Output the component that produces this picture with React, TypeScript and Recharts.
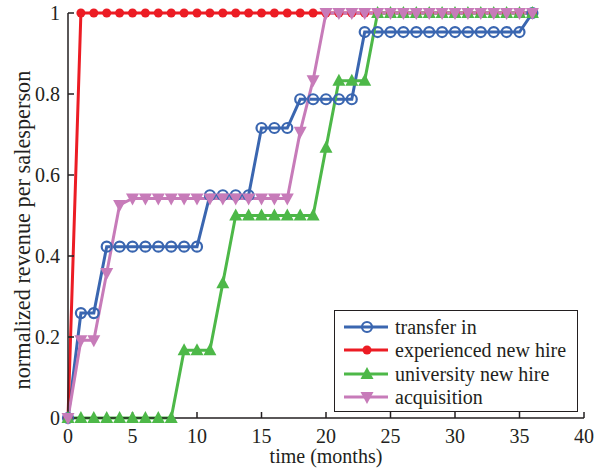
import { LineChart, Line, XAxis, YAxis, Legend } from "recharts";

const months = [0, 1, 2, 3, 4, 5, 6, 7, 8, 9, 10, 11, 12, 13, 14, 15, 16, 17, 18, 19, 20, 21, 22, 23, 24, 25, 26, 27, 28, 29, 30, 31, 32, 33, 34, 35, 36];

const transferIn = [0, 0.259, 0.259, 0.423, 0.423, 0.423, 0.423, 0.423, 0.423, 0.423, 0.423, 0.55, 0.55, 0.55, 0.55, 0.716, 0.716, 0.716, 0.787, 0.787, 0.787, 0.787, 0.787, 0.953, 0.953, 0.953, 0.953, 0.953, 0.953, 0.953, 0.953, 0.953, 0.953, 0.953, 0.953, 0.953, 1];
const experiencedNewHire = [0, 1, 1, 1, 1, 1, 1, 1, 1, 1, 1, 1, 1, 1, 1, 1, 1, 1, 1, 1, 1, 1, 1, 1, 1, 1, 1, 1, 1, 1, 1, 1, 1, 1, 1, 1, 1];
const universityNewHire = [0, 0, 0, 0, 0, 0, 0, 0, 0, 0.167, 0.167, 0.167, 0.333, 0.5, 0.5, 0.5, 0.5, 0.5, 0.5, 0.5, 0.667, 0.833, 0.833, 0.833, 1, 1, 1, 1, 1, 1, 1, 1, 1, 1, 1, 1, 1];
const acquisition = [0, 0.192, 0.192, 0.358, 0.526, 0.542, 0.542, 0.542, 0.542, 0.542, 0.542, 0.542, 0.542, 0.542, 0.542, 0.542, 0.542, 0.542, 0.707, 0.834, 1, 1, 1, 1, 1, 1, 1, 1, 1, 1, 1, 1, 1, 1, 1, 1, 1];

const xTicks = [0, 5, 10, 15, 20, 25, 30, 35, 40];
const yTicks = [0, 0.2, 0.4, 0.6, 0.8, 1];

const data = months.map((m, i) => ({
  month: m,
  transfer: transferIn[i],
  experienced: experiencedNewHire[i],
  university: universityNewHire[i],
  acquisition: acquisition[i],
}));

const FONT = "Liberation Serif, Times New Roman, DejaVu Serif, serif";
const INK = "#231f20";

type Shape = "openCircle" | "dot" | "triUp" | "triDown";

const series: { key: string; name: string; color: string; shape: Shape }[] = [
  { key: "transfer", name: "transfer in", color: "#3a66b0", shape: "openCircle" },
  { key: "experienced", name: "experienced new hire", color: "#ec1c24", shape: "dot" },
  { key: "university", name: "university new hire", color: "#4db848", shape: "triUp" },
  { key: "acquisition", name: "acquisition", color: "#c77bb9", shape: "triDown" },
];

function marker(shape: Shape, color: string, cx: number, cy: number, key?: string | number) {
  if (shape === "openCircle")
    return <circle key={key} cx={cx} cy={cy} r={5} fill="none" stroke={color} strokeWidth={2.2} />;
  if (shape === "dot") return <circle key={key} cx={cx} cy={cy} r={4.5} fill={color} />;
  if (shape === "triUp")
    return (
      <polygon key={key} points={`${cx},${cy - 7} ${cx - 6.5},${cy + 5} ${cx + 6.5},${cy + 5}`} fill={color} />
    );
  return <polygon key={key} points={`${cx},${cy + 7} ${cx - 6.5},${cy - 5} ${cx + 6.5},${cy - 5}`} fill={color} />;
}

function LegendBox() {
  return (
    <div
      style={{
        border: `1.5px solid ${INK}`,
        background: "#fff",
        width: 244,
        height: 102,
        boxSizing: "border-box",
        paddingTop: 4,
        fontFamily: FONT,
        fontSize: 20,
        color: INK,
      }}
    >
      {series.map((s) => (
        <div key={s.key} style={{ display: "flex", alignItems: "center", height: 23.5 }}>
          <svg width={60} height={20} style={{ flex: "none" }}>
            <line x1={9} x2={53} y1={10} y2={10} stroke={s.color} strokeWidth={3} />
            {marker(s.shape, s.color, 32, 10)}
          </svg>
          <span style={{ lineHeight: "20px" }}>{s.name}</span>
        </div>
      ))}
    </div>
  );
}

export default function App() {
  return (
    <div style={{ position: "absolute", left: 0, top: 0, background: "#fff", fontFamily: FONT }}>
      <LineChart width={605} height={471} data={data} margin={{ top: 13, right: 21, left: 0, bottom: 0 }}>
        <XAxis
          dataKey="month"
          type="number"
          domain={[0, 40]}
          ticks={xTicks}
          height={53}
          tickSize={-6}
          tickMargin={17}
          stroke={INK}
          strokeWidth={1.5}
          tick={{ fill: INK, fontSize: 20, fontFamily: FONT }}
          label={{
            value: "time (months)",
            position: "insideBottom",
            offset: 8,
            fill: INK,
            fontSize: 20,
            fontFamily: FONT,
          }}
        />
        <XAxis
          xAxisId="top"
          orientation="top"
          dataKey="month"
          type="number"
          domain={[0, 40]}
          ticks={xTicks}
          height={0}
          tickSize={-6}
          tick={false}
          stroke={INK}
          strokeWidth={1.2}
        />
        <YAxis
          type="number"
          domain={[0, 1]}
          ticks={yTicks}
          width={68}
          tickSize={-6}
          tickMargin={14}
          stroke={INK}
          strokeWidth={1.5}
          tickFormatter={(v: number) => (v === 0 || v === 1 ? String(v) : v.toFixed(1))}
          tick={{ fill: INK, fontSize: 20, fontFamily: FONT }}
          label={{
            content: () => {
              const cx = 30;
              const cy = 230;
              return (
                <text
                  x={cx}
                  y={cy}
                  transform={`rotate(-90 ${cx} ${cy})`}
                  textAnchor="middle"
                  fill={INK}
                  fontSize={22.3}
                  fontFamily={FONT}
                >
                  normalized revenue per salesperson
                </text>
              );
            },
          }}
        />
        <YAxis
          yAxisId="right"
          orientation="right"
          type="number"
          domain={[0, 1]}
          ticks={yTicks}
          width={0}
          tickSize={-6}
          tick={false}
          stroke={INK}
          strokeWidth={1.2}
        />
        {series.map((s) => (
          <Line
            key={s.key}
            dataKey={s.key}
            name={s.name}
            type="linear"
            stroke={s.color}
            strokeWidth={3}
            isAnimationActive={false}
            dot={(p: any) => marker(s.shape, s.color, p.cx, p.cy, `${s.key}-${p.index}`)}
            activeDot={false}
          />
        ))}
        <Legend
          layout="horizontal"
          align="center"
          verticalAlign="middle"
          content={() => <LegendBox />}
          wrapperStyle={{ left: 334, top: 310, width: 244, height: 102 }}
        />
      </LineChart>
    </div>
  );
}
